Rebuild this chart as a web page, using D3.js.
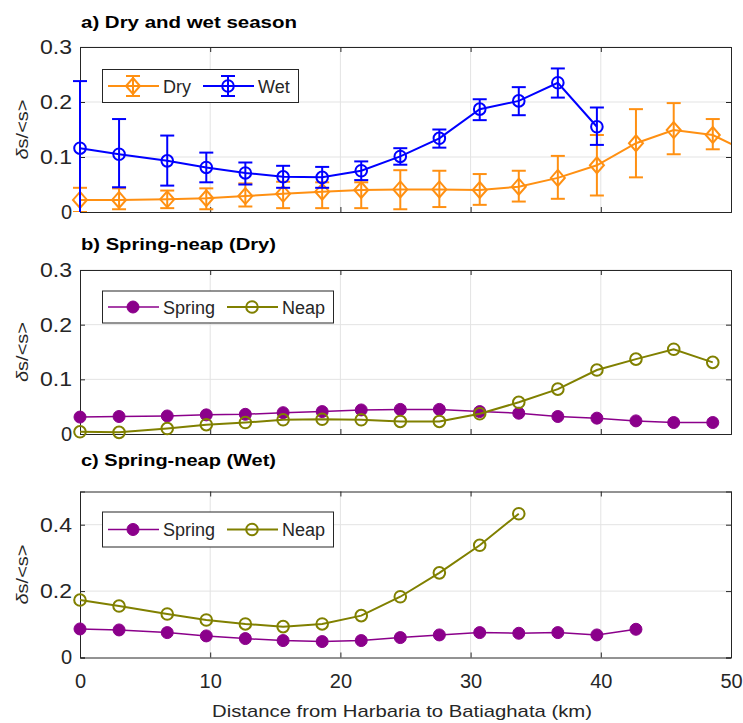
<!DOCTYPE html>
<html>
<head>
<meta charset="utf-8">
<script src="https://cdn.jsdelivr.net/npm/d3@7"></script>
<style>
  body { margin: 0; background: #fff; }
  svg { font-family: "Liberation Sans", Arial, sans-serif; }
</style>
</head>
<body>
<svg id="chart"></svg>
<script>
// distance along the channel (km)
const distKm = [0, 3, 6.7, 9.7, 12.7, 15.6, 18.6, 21.6, 24.6, 27.6, 30.7, 33.7, 36.7, 39.7, 42.7, 45.6, 48.6, 51.6];

// a) dry and wet season, mean and error bar limits
const dryMean = [0.022, 0.022, 0.023, 0.025, 0.029, 0.033, 0.037, 0.040, 0.041, 0.041, 0.040, 0.046, 0.062, 0.085, 0.125, 0.149, 0.140, 0.105];
const dryLow  = [0.000, 0.005, 0.007, 0.005, 0.010, 0.007, 0.007, 0.007, 0.005, 0.009, 0.013, 0.019, 0.024, 0.030, 0.063, 0.105, 0.114, 0.090];
const dryHigh = [0.044, 0.043, 0.039, 0.043, 0.052, 0.055, 0.054, 0.054, 0.076, 0.075, 0.069, 0.075, 0.102, 0.140, 0.187, 0.198, 0.169, 0.120];
const wetMean = [0.116, 0.105, 0.093, 0.081, 0.071, 0.064, 0.063, 0.075, 0.101, 0.134, 0.187, 0.202, 0.235, 0.155];
const wetLow  = [-0.006, 0.045, 0.048, 0.054, 0.050, 0.044, 0.044, 0.058, 0.086, 0.117, 0.167, 0.176, 0.208, 0.122];
const wetHigh = [0.238, 0.169, 0.139, 0.108, 0.090, 0.084, 0.082, 0.092, 0.116, 0.150, 0.205, 0.227, 0.261, 0.190];

// b) spring-neap, dry season
const springDry = [0.031, 0.032, 0.033, 0.035, 0.036, 0.039, 0.041, 0.044, 0.045, 0.045, 0.041, 0.038, 0.032, 0.029, 0.024, 0.021, 0.021];
const neapDry   = [0.004, 0.003, 0.010, 0.017, 0.021, 0.026, 0.027, 0.026, 0.023, 0.023, 0.037, 0.058, 0.082, 0.117, 0.137, 0.155, 0.131];

// c) spring-neap, wet season
const springWet = [0.086, 0.083, 0.075, 0.065, 0.057, 0.051, 0.048, 0.051, 0.060, 0.068, 0.075, 0.073, 0.075, 0.068, 0.085];
const neapWet   = [0.173, 0.155, 0.131, 0.113, 0.101, 0.093, 0.101, 0.126, 0.183, 0.255, 0.338, 0.433];

const xTicks = [0, 10, 20, 30, 40, 50];

const svgWidth = 743;
const svgHeight = 723;
const plotLeft = 80, plotRight = 731;
const textColor = '#262626';
const orange = '#ff9012';
const blue = '#0000ff';
const purple = '#8b008b';
const olive = '#808000';

const svg = d3.select('#chart')
  .attr('width', svgWidth)
  .attr('height', svgHeight);

const xScale = d3.scaleLinear().domain([0, 50]).range([plotLeft, plotRight]);

function pts(values) {
  return values.map((v, i) => ({ x: distKm[i], y: v }));
}

function drawPanel(p) {
  const yScale = d3.scaleLinear().domain(p.yDomain).range([p.bottom, p.top]);
  const g = svg.append('g');
  const clipId = 'clip-' + p.id;
  svg.append('clipPath').attr('id', clipId)
    .append('rect')
    .attr('x', plotLeft - 10).attr('y', p.top)
    .attr('width', plotRight - plotLeft + 10).attr('height', p.bottom - p.top);

  // grid
  g.selectAll('.gx').data(xTicks.slice(1, -1)).enter().append('line')
    .attr('x1', d => xScale(d)).attr('x2', d => xScale(d))
    .attr('y1', p.top).attr('y2', p.bottom)
    .attr('stroke', '#e3e3e3').attr('stroke-width', 1);
  g.selectAll('.gy').data(p.yTicks.slice(1)).enter().append('line')
    .attr('x1', plotLeft).attr('x2', plotRight)
    .attr('y1', d => yScale(d)).attr('y2', d => yScale(d))
    .attr('stroke', '#e3e3e3').attr('stroke-width', 1);

  // axes (box with inward ticks on all sides)
  const axL = g.append('g').attr('transform', `translate(${plotLeft},0)`)
    .call(d3.axisLeft(yScale).tickValues(p.yTicks).tickSize(-5).tickPadding(8)
      .tickFormat(d => d === 0 ? '0' : d3.format('.1f')(d)));
  const axR = g.append('g').attr('transform', `translate(${plotRight},0)`)
    .call(d3.axisRight(yScale).tickValues(p.yTicks).tickSize(-5).tickFormat(''));
  const axT = g.append('g').attr('transform', `translate(0,${p.top})`)
    .call(d3.axisTop(xScale).tickValues(xTicks).tickSize(-5).tickFormat(''));
  const axB = g.append('g').attr('transform', `translate(0,${p.bottom})`)
    .call(d3.axisBottom(xScale).tickValues(xTicks).tickSize(-5).tickPadding(16)
      .tickFormat(p.showX ? d3.format('d') : ''));
  [axL, axR, axT, axB].forEach(a => {
    a.selectAll('path').attr('stroke', textColor).attr('stroke-width', 1);
    a.selectAll('line').attr('stroke', textColor).attr('stroke-width', 1);
    a.selectAll('text').attr('fill', textColor).attr('font-size', '20px').attr('font-family', null);
  });
  axL.selectAll('text').filter(d => d !== 0)
    .attr('textLength', 32).attr('lengthAdjust', 'spacingAndGlyphs');

  // y label
  g.append('text')
    .attr('transform', `translate(28,${(p.top + p.bottom) / 2}) rotate(-90)`)
    .attr('text-anchor', 'middle')
    .attr('fill', textColor)
    .attr('font-size', '16px')
    .attr('textLength', 60).attr('lengthAdjust', 'spacingAndGlyphs')
    .html('<tspan font-style="italic">δ</tspan>s/&lt;s&gt;');

  // title
  svg.append('text')
    .attr('x', 81).attr('y', p.titleY)
    .attr('font-size', '16px').attr('font-weight', 'bold')
    .attr('fill', '#000')
    .attr('textLength', p.titleW).attr('lengthAdjust', 'spacingAndGlyphs')
    .text(p.title);

  const line = d3.line().x(d => xScale(d.x)).y(d => yScale(d.y));
  const data = g.append('g');

  p.series.forEach(s => {
    const sd = pts(s.values);
    if (s.low) {
      const eb = data.append('g').attr('clip-path', `url(#${clipId})`);
      sd.forEach((d, i) => {
        const cx = xScale(d.x), y1 = yScale(s.low[i]), y2 = yScale(s.high[i]);
        eb.append('line').attr('x1', cx).attr('x2', cx).attr('y1', y1).attr('y2', y2)
          .attr('stroke', s.color).attr('stroke-width', 2);
        [y1, y2].forEach(yy => eb.append('line')
          .attr('x1', cx - 7).attr('x2', cx + 7).attr('y1', yy).attr('y2', yy)
          .attr('stroke', s.color).attr('stroke-width', 2));
      });
    }
    data.append('path').datum(sd)
      .attr('clip-path', `url(#${clipId})`)
      .attr('fill', 'none').attr('stroke', s.color)
      .attr('stroke-width', s.width).attr('d', line);
    const inside = sd.filter(d => d.x <= 50);
    drawMarkers(data, inside.map(d => [xScale(d.x), yScale(d.y)]), s);
  });

  // legend
  const lg = g.append('g');
  lg.append('rect')
    .attr('x', p.legend.x).attr('y', p.legend.y)
    .attr('width', p.legend.w).attr('height', p.legend.h)
    .attr('fill', '#fff').attr('stroke', '#262626').attr('stroke-width', 1);
  const cy = p.legend.y + p.legend.h / 2;
  p.series.forEach((s, i) => {
    const x0 = p.legend.items[i];
    lg.append('line').attr('x1', x0).attr('x2', x0 + 51).attr('y1', cy).attr('y2', cy)
      .attr('stroke', s.color).attr('stroke-width', s.width);
    if (s.low) {
      lg.append('line').attr('x1', x0 + 25).attr('x2', x0 + 25).attr('y1', cy - 10).attr('y2', cy + 10)
        .attr('stroke', s.color).attr('stroke-width', 2);
      [cy - 10, cy + 10].forEach(yy => lg.append('line')
        .attr('x1', x0 + 18).attr('x2', x0 + 32).attr('y1', yy).attr('y2', yy)
        .attr('stroke', s.color).attr('stroke-width', 2));
    }
    drawMarkers(lg, [[x0 + 25, cy]], s);
    lg.append('text').attr('x', x0 + 55).attr('y', cy + 6.5)
      .attr('font-size', '18px').attr('fill', textColor)
      .text(s.name);
  });
}

function drawMarkers(sel, coords, s) {
  if (s.marker === 'diamond') {
    sel.selectAll(null).data(coords).enter().append('path')
      .attr('d', d => `M${d[0]},${d[1] - 8}L${d[0] + 7},${d[1]}L${d[0]},${d[1] + 8}L${d[0] - 7},${d[1]}Z`)
      .attr('fill', 'none').attr('stroke', s.color).attr('stroke-width', 2);
  } else {
    sel.selectAll(null).data(coords).enter().append('circle')
      .attr('cx', d => d[0]).attr('cy', d => d[1])
      .attr('r', s.filled ? 6 : 5.8)
      .attr('fill', s.filled ? s.color : 'none')
      .attr('stroke', s.color).attr('stroke-width', s.filled ? 1 : 2);
  }
}

drawPanel({
  id: 'a', title: 'a) Dry and wet season', titleY: 27.5, titleW: 216, top: 47, bottom: 212,
  yDomain: [0, 0.3], yTicks: [0, 0.1, 0.2, 0.3], showX: false,
  legend: { x: 102.5, y: 69.5, w: 196, h: 33, items: [108, 203] },
  series: [
    { name: 'Dry', values: dryMean, low: dryLow, high: dryHigh, color: orange, width: 2, marker: 'diamond' },
    { name: 'Wet', values: wetMean, low: wetLow, high: wetHigh, color: blue, width: 2, marker: 'circle' }
  ]
});

drawPanel({
  id: 'b', title: 'b) Spring-neap (Dry)', titleY: 250, titleW: 195, top: 270, bottom: 434,
  yDomain: [0, 0.3], yTicks: [0, 0.1, 0.2, 0.3], showX: false,
  legend: { x: 102.5, y: 291, w: 231, h: 32, items: [108, 227] },
  series: [
    { name: 'Spring', values: springDry, color: purple, width: 1.5, marker: 'circle', filled: true },
    { name: 'Neap', values: neapDry, color: olive, width: 2, marker: 'circle', filled: false }
  ]
});

drawPanel({
  id: 'c', title: 'c) Spring-neap (Wet)', titleY: 466, titleW: 195, top: 491.5, bottom: 657.5,
  yDomain: [0, 0.5], yTicks: [0, 0.2, 0.4], showX: true,
  legend: { x: 102.5, y: 512, w: 231, h: 35, items: [108, 227] },
  series: [
    { name: 'Spring', values: springWet, color: purple, width: 1.5, marker: 'circle', filled: true },
    { name: 'Neap', values: neapWet, color: olive, width: 2, marker: 'circle', filled: false }
  ]
});

// x label
svg.append('text')
  .attr('x', 402).attr('y', 717)
  .attr('text-anchor', 'middle').attr('fill', textColor)
  .attr('font-size', '17px')
  .attr('textLength', 380).attr('lengthAdjust', 'spacingAndGlyphs')
  .text('Distance from Harbaria to Batiaghata (km)');
</script>
</body>
</html>
